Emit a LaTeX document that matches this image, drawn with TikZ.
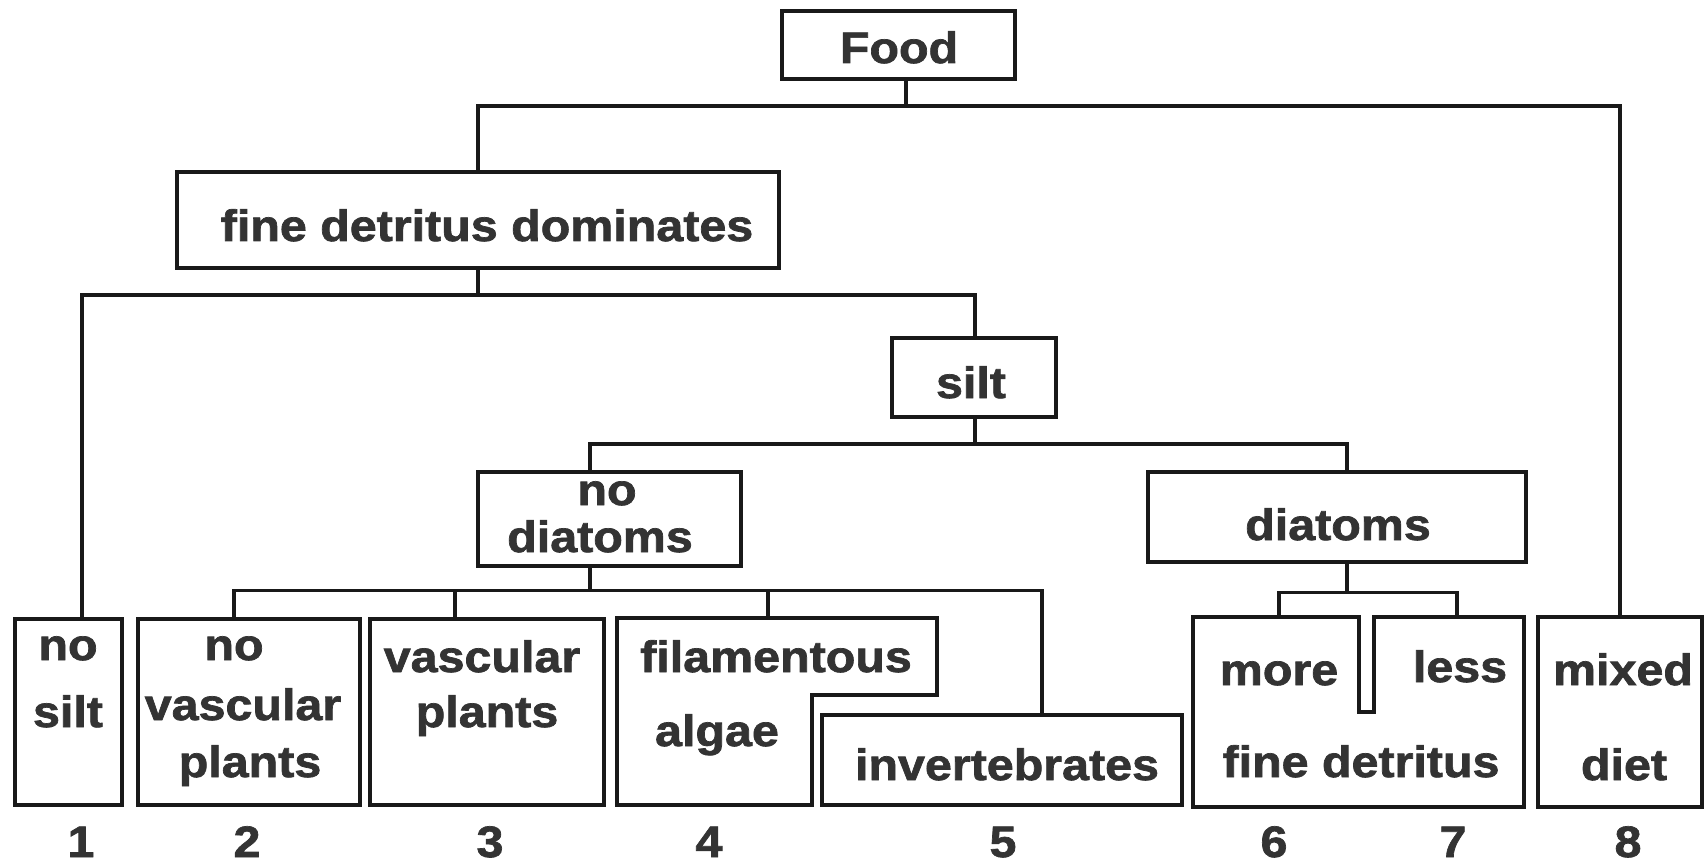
\documentclass[tikz,border=0pt]{standalone}
\usepackage{fontspec}
\setmainfont{Liberation Sans}[FakeStretch=1.1, BoldFeatures={FakeBold=1.6}]
\usetikzlibrary{calc,fit}
\begin{document}
\begin{tikzpicture}[x=0.5pt,y=-0.5pt,
  line width=1.6pt,
  color=black!90,
  box/.style={draw, inner sep=0pt},
  frame/.style={inner sep=0pt, outer sep=0pt},
  lbl/.style={anchor=base, inner sep=0pt, text=black!80,
    font=\fontsize{22}{26}\selectfont\bfseries}]
\useasboundingbox (0,0) rectangle (1707,866);

% ---- boxes ----
\node[box, fit={(782,11) (1015,79)}] (food) {};
\node[box, fit={(177,172) (779,268)}] (fdd) {};
\node[box, fit={(892,338) (1056,417)}] (silt) {};
\node[box, fit={(478,472) (741,566)}] (nodiat) {};
\node[box, fit={(1148,472) (1526,562)}] (diat) {};
\node[box, fit={(15,619) (122,805)}] (nosilt) {};
\node[box, fit={(138,619) (360,805)}] (novasc) {};
\node[box, fit={(370,619) (604,805)}] (vasc) {};
\node[box, fit={(822,715) (1182,805)}] (inv) {};
\node[box, fit={(1538,617) (1702,807)}] (mixed) {};

% stepped box for filamentous algae
\node[frame, fit={(617,618) (937,805)}] (fil) {};
\draw (fil.north west) -- (fil.north east) -- (937,695) -- (812,695)
      -- (812,805) -- (fil.south west) -- cycle;

% shared box for more / less fine detritus, with a notch between them
\node[frame, fit={(1193,617) (1524,807)}] (ml) {};
\draw (1359,617) -- (ml.north west) -- (ml.south west) -- (ml.south east)
      -- (ml.north east) -- (1374,617) -- (1374,712) -- (1359,712) -- cycle;

% ---- texts ----
\node[lbl] (tfood) at (899,63) {Food};
\node[lbl] (tfdd) at (487,241) {fine detritus dominates};
\node[lbl] (tsilt) at (971,398) {silt};
\node[lbl] (tnd1) at (607,505) {no};
\node[lbl] (tnd2) at (600,552) {diatoms};
\node[lbl] (tdiat) at (1338,540) {diatoms};
\node[lbl] (tns1) at (68,660) {no};
\node[lbl] (tns2) at (68,727) {silt};
\node[lbl] (tnv1) at (234,660) {no};
\node[lbl] (tnv2) at (243,720) {vascular};
\node[lbl] (tnv3) at (250,777) {plants};
\node[lbl] (tv1) at (482,672) {vascular};
\node[lbl] (tv2) at (487,727) {plants};
\node[lbl] (tf1) at (776,672) {filamentous};
\node[lbl] (tf2) at (717,746) {algae};
\node[lbl] (tinv) at (1007,780) {invertebrates};
\node[lbl] (tmore) at (1279,685) {more};
\node[lbl] (tless) at (1460,682) {less};
\node[lbl] (tfd) at (1361,777) {fine detritus};
\node[lbl] (tmix) at (1623,685) {mixed};
\node[lbl] (tdiet) at (1624,780) {diet};

% ---- category numbers ----
\node[lbl] (n1) at (81,857) {1};
\node[lbl] (n2) at (247,857) {2};
\node[lbl] (n3) at (490,857) {3};
\node[lbl] (n4) at (709,857) {4};
\node[lbl] (n5) at (1003,857) {5};
\node[lbl] (n6) at (1274,857) {6};
\node[lbl] (n7) at (1453,857) {7};
\node[lbl] (n8) at (1628,857) {8};

% ---- connectors ----
% Food
\coordinate (j0) at (906,106);
\draw (food.south -| j0) -- (j0);
\draw (fdd.north) |- (j0) -| (mixed.north);

% fine detritus dominates
\coordinate (j1) at (478,295);
\coordinate (a1) at ($(nosilt.north)+(13.5,0)$);
\coordinate (a2) at ($(silt.north)+(1,0)$);
\draw (fdd.south) -- (j1);
\draw (a1) |- (j1) -| (a2);

% silt
\coordinate (j2) at (975,444);
\coordinate (b1) at ($(nodiat.north)+(-19.5,0)$);
\coordinate (b2) at ($(diat.north)+(10,0)$);
\draw (silt.south -| j2) -- (j2);
\draw (b1) |- (j2) -| (b2);

% no diatoms
\coordinate (c0) at ($(nodiat.south)+(-19.5,0)$);
\coordinate (j3) at ($(c0)+(0,23)$);
\coordinate (t2) at ($(novasc.north)+(-15,0)$);
\coordinate (t3) at ($(vasc.north)+(-32,0)$);
\coordinate (t4) at (768,618);
\coordinate (t5) at ($(inv.north)+(40,0)$);
\draw (c0) -- (j3);
\draw (t2) |- (j3) -| (t5);
\draw (t3) -- (t3 |- j3);
\draw (t4) -- (t4 |- j3);

% diatoms
\coordinate (d0) at ($(diat.south)+(10,0)$);
\coordinate (j4) at ($(d0)+(0,29)$);
\coordinate (t6) at (1279,617);
\coordinate (t7) at (1457,617);
\draw (d0) -- (j4);
\draw (t6) |- (j4) -| (t7);
\end{tikzpicture}
\end{document}
